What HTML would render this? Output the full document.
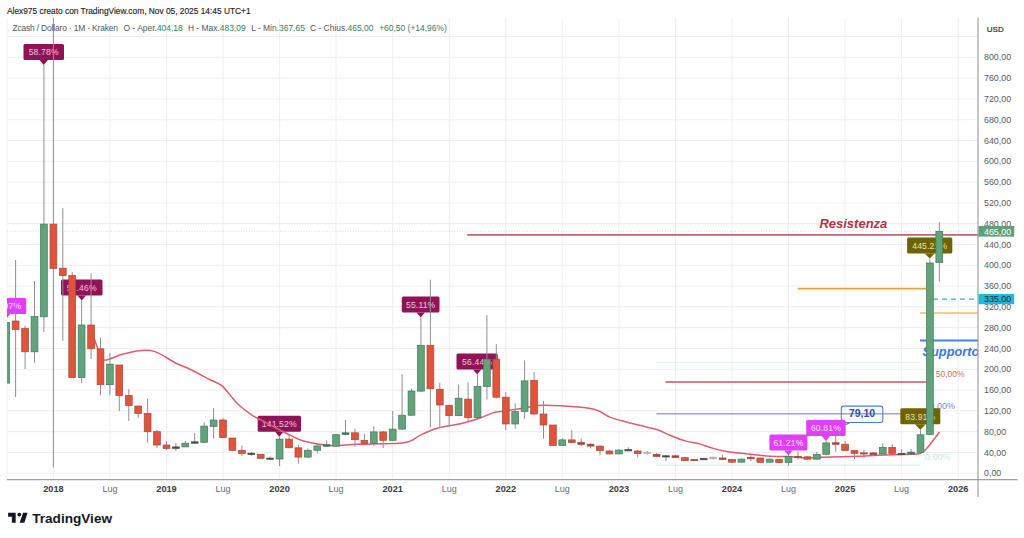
<!DOCTYPE html>
<html><head><meta charset="utf-8">
<style>
html,body{margin:0;padding:0;background:#fff;}
body{width:1024px;height:538px;position:relative;overflow:hidden;}
svg{position:absolute;left:0;top:0;}
</style></head><body>
<svg width="1024" height="538" viewBox="0 0 1024 538" font-family="Liberation Sans, sans-serif">
<defs><clipPath id="pane"><rect x="7" y="17.7" width="971" height="461.8"/></clipPath></defs>
<g stroke="#efeff0" stroke-width="1.05">
<line x1="7" y1="17.7" x2="7" y2="479.5" stroke="#f2f2f4"/>
<line x1="7" y1="473.2" x2="978" y2="473.2"/>
<line x1="7" y1="452.4" x2="978" y2="452.4"/>
<line x1="7" y1="431.6" x2="978" y2="431.6"/>
<line x1="7" y1="410.8" x2="978" y2="410.8"/>
<line x1="7" y1="390.0" x2="978" y2="390.0"/>
<line x1="7" y1="369.2" x2="978" y2="369.2"/>
<line x1="7" y1="348.4" x2="978" y2="348.4"/>
<line x1="7" y1="327.6" x2="978" y2="327.6"/>
<line x1="7" y1="306.8" x2="978" y2="306.8"/>
<line x1="7" y1="286.0" x2="978" y2="286.0"/>
<line x1="7" y1="265.2" x2="978" y2="265.2"/>
<line x1="7" y1="244.4" x2="978" y2="244.4"/>
<line x1="7" y1="223.6" x2="978" y2="223.6"/>
<line x1="7" y1="202.9" x2="978" y2="202.9"/>
<line x1="7" y1="182.1" x2="978" y2="182.1"/>
<line x1="7" y1="161.3" x2="978" y2="161.3"/>
<line x1="7" y1="140.5" x2="978" y2="140.5"/>
<line x1="7" y1="119.7" x2="978" y2="119.7"/>
<line x1="7" y1="98.9" x2="978" y2="98.9"/>
<line x1="7" y1="78.1" x2="978" y2="78.1"/>
<line x1="7" y1="57.3" x2="978" y2="57.3"/>
<line x1="7" y1="36.5" x2="978" y2="36.5"/>
<line x1="53.4" y1="17.7" x2="53.4" y2="479.5"/>
<line x1="109.9" y1="17.7" x2="109.9" y2="479.5"/>
<line x1="166.5" y1="17.7" x2="166.5" y2="479.5"/>
<line x1="223.0" y1="17.7" x2="223.0" y2="479.5"/>
<line x1="279.6" y1="17.7" x2="279.6" y2="479.5"/>
<line x1="336.1" y1="17.7" x2="336.1" y2="479.5"/>
<line x1="392.7" y1="17.7" x2="392.7" y2="479.5"/>
<line x1="449.2" y1="17.7" x2="449.2" y2="479.5"/>
<line x1="505.8" y1="17.7" x2="505.8" y2="479.5"/>
<line x1="562.3" y1="17.7" x2="562.3" y2="479.5"/>
<line x1="618.9" y1="17.7" x2="618.9" y2="479.5"/>
<line x1="675.4" y1="17.7" x2="675.4" y2="479.5"/>
<line x1="732.0" y1="17.7" x2="732.0" y2="479.5"/>
<line x1="788.5" y1="17.7" x2="788.5" y2="479.5"/>
<line x1="845.1" y1="17.7" x2="845.1" y2="479.5"/>
<line x1="901.6" y1="17.7" x2="901.6" y2="479.5"/>
<line x1="958.2" y1="17.7" x2="958.2" y2="479.5"/>
</g>
<g clip-path="url(#pane)">
<line x1="7" y1="231.2" x2="978" y2="231.2" stroke="#cfc6c6" stroke-width="0.7" stroke-dasharray="1 1.6"/>
<line x1="467.3" y1="234.9" x2="978" y2="234.9" stroke="#c86470" stroke-width="1.6"/>
<line x1="797.7" y1="288.6" x2="926" y2="288.6" stroke="#e9a03e" stroke-width="1.7"/>
<line x1="933" y1="299.2" x2="978" y2="299.2" stroke="#2ab4d6" stroke-width="1.3" stroke-dasharray="5 4"/>
<line x1="920" y1="313" x2="978" y2="313" stroke="#f2c04a" stroke-width="1.7"/>
<line x1="920" y1="340.5" x2="978" y2="340.5" stroke="#4a80e8" stroke-width="1.9"/>
<line x1="656.4" y1="362.3" x2="920" y2="362.3" stroke="#cfeee6" stroke-width="0.8"/>
<line x1="665.5" y1="382" x2="926.5" y2="382" stroke="#c85560" stroke-width="1.5"/>
<line x1="656.4" y1="413.8" x2="930" y2="413.8" stroke="#a4a2d6" stroke-width="1.5"/>
<line x1="656.4" y1="465.2" x2="920" y2="465.2" stroke="#c8ece6" stroke-width="0.8"/>
<text x="819.4" y="228.3" font-size="13" font-weight="bold" font-style="italic" fill="#b23444">Resistenza</text>
<text x="922.5" y="355.8" font-size="12.8" font-weight="bold" font-style="italic" fill="#3a78e0">Supporto</text>
<text x="935.8" y="377.4" font-size="8.5" fill="#e06868">50,00%</text>
<text x="955.1" y="408.6" font-size="9" fill="#8a80d8" text-anchor="end">0.00%</text>
<text x="950.5" y="460.1" font-size="9" fill="#c4ece6" text-anchor="end">0.00%</text>
<rect x="841.3" y="406.1" width="41.5" height="16.4" rx="2.5" fill="none" stroke="#4a7cd0" stroke-width="1.1"/>
<path d="M841.3 419 L845.8 424.5 L850.2 422.5" fill="none" stroke="#4a7cd0" stroke-width="1.1"/>
<text x="862" y="417.4" font-size="10.6" font-weight="bold" fill="#3050a0" text-anchor="middle">79,10</text>
<rect x="-13.8" y="298.0" width="40" height="16" rx="1.5" fill="#e03ff8"/><path d="M2.0 314.0 L6.2 319.0 L10.4 314.0 Z" fill="#e03ff8"/><text x="6.2" y="309.4" fill="#fbe0ff" font-size="8.6" text-anchor="middle" letter-spacing="0.15">52.07%</text>
<rect x="23.5" y="44.0" width="40.5" height="16" rx="1.5" fill="#901358"/><path d="M39.5 60.0 L43.7 65.0 L47.9 60.0 Z" fill="#901358"/><text x="43.7" y="55.4" fill="#efc8de" font-size="8.6" text-anchor="middle" letter-spacing="0.15">58.78%</text>
<rect x="61.0" y="279.5" width="41.5" height="16" rx="1.5" fill="#901358"/><path d="M77.5 295.5 L81.7 300.5 L85.9 295.5 Z" fill="#901358"/><text x="81.7" y="290.9" fill="#efc8de" font-size="8.6" text-anchor="middle" letter-spacing="0.15">51.46%</text>
<rect x="257.7" y="415.7" width="43.3" height="16" rx="1.5" fill="#901358"/><path d="M275.1 431.7 L279.3 436.7 L283.5 431.7 Z" fill="#901358"/><text x="279.3" y="427.1" fill="#efc8de" font-size="8.6" text-anchor="middle" letter-spacing="0.15">141.52%</text>
<rect x="401.8" y="296.4" width="37.7" height="16" rx="1.5" fill="#901358"/><path d="M416.5 312.4 L420.7 317.4 L424.9 312.4 Z" fill="#901358"/><text x="420.7" y="307.8" fill="#efc8de" font-size="8.6" text-anchor="middle" letter-spacing="0.15">55.11%</text>
<rect x="456.5" y="353.4" width="41.3" height="16" rx="1.5" fill="#901358"/><path d="M472.9 369.4 L477.1 374.4 L481.3 369.4 Z" fill="#901358"/><text x="477.1" y="364.8" fill="#efc8de" font-size="8.6" text-anchor="middle" letter-spacing="0.15">56.44%</text>
<rect x="769.4" y="434.6" width="38" height="16" rx="1.5" fill="#e03ff8"/><path d="M784.2 450.6 L788.4 455.6 L792.6 450.6 Z" fill="#e03ff8"/><text x="788.4" y="446.0" fill="#fbe0ff" font-size="8.6" text-anchor="middle" letter-spacing="0.15">61.21%</text>
<rect x="806.2" y="419.9" width="39.4" height="16" rx="1.5" fill="#e03ff8"/><path d="M821.7 435.9 L825.9 440.9 L830.1 435.9 Z" fill="#e03ff8"/><text x="825.9" y="431.3" fill="#fbe0ff" font-size="8.6" text-anchor="middle" letter-spacing="0.15">60.81%</text>
<rect x="900.3" y="408.2" width="40" height="16" rx="1.5" fill="#6e6400"/><path d="M914.9 424.2 L920.3 429.8 L925.7 424.2 Z" fill="#6e6400"/><text x="920.3" y="419.6" fill="#ebe3b0" font-size="8.6" text-anchor="middle" letter-spacing="0.15">83.91%</text>
<rect x="907.1" y="237.4" width="45.2" height="16" rx="1.5" fill="#6e6400"/><path d="M924.7 253.4 L929.7 258.6 L934.7 253.4 Z" fill="#6e6400"/><text x="929.7" y="248.8" fill="#ebe3b0" font-size="8.6" text-anchor="middle" letter-spacing="0.15">445.21%</text>
<path d="M91,333 C91.6,334.0 93.3,336.4 94.4,339 C95.5,341.6 96.0,344.8 97.6,348.3 C99.2,351.8 100.3,358.9 104,360 C107.7,361.1 114.3,356.6 120,355 C125.7,353.4 132.5,351.3 138.3,350.7 C144.1,350.1 148.8,349.6 155,351.6 C161.2,353.7 169.7,360.1 175.5,363 C181.3,365.9 184.2,366.5 190,369.3 C195.8,372.1 205.3,377.3 210.6,380 C215.9,382.7 218.1,382.5 221.8,385.6 C225.5,388.7 230.0,395.2 233,398.6 C236.0,402.0 236.8,403.2 240,406 C243.2,408.8 247.8,412.4 252.3,415.3 C256.8,418.2 261.6,420.2 267.2,423.1 C272.8,426.1 279.6,430.0 285.8,433 C292.0,436.0 296.9,439.2 304.3,441.3 C311.7,443.4 321.2,444.9 330,445.4 C338.8,445.9 345.2,444.7 357.2,444.3 C369.2,443.9 392.5,443.8 401.8,443 C411.1,442.2 410.0,441.0 413,439.7 C416.0,438.4 416.0,437.3 420,435.4 C424.0,433.5 430.3,430.3 437.2,428.3 C444.1,426.3 454.2,425.3 461.3,423.6 C468.4,421.9 474.7,419.8 480,418 C485.3,416.2 489.7,414.0 493,412.9 C496.3,411.8 495.6,412.3 500,411.6 C504.4,410.9 513.3,409.8 519.7,408.8 C526.1,407.8 530.9,406.0 538.3,405.5 C545.7,405.0 555.9,405.6 564.3,406 C572.7,406.4 583.1,407.3 588.9,408.2 C594.7,409.1 595.8,409.7 599.3,411.2 C602.8,412.7 606.1,415.5 609.8,417.1 C613.5,418.7 616.8,419.4 621.7,420.8 C626.7,422.2 633.5,423.8 639.5,425.3 C645.5,426.8 652.4,428.2 657.4,429.8 C662.4,431.4 664.7,433.1 669.3,435 C673.9,436.9 679.8,439.4 684.9,440.9 C690.0,442.4 695.1,442.6 699.8,443.9 C704.5,445.1 708.2,447.0 713.2,448.4 C718.2,449.8 723.8,451.2 729.5,452.1 C735.2,453.0 740.6,453.2 747.4,453.9 C754.1,454.6 763.2,455.9 770,456.3 C776.8,456.7 782.5,456.2 788.3,456.5 C794.1,456.8 798.9,457.9 804.6,458 C810.3,458.1 813.3,457.6 822.5,457.3 C831.7,457.0 850.9,456.6 860,456.3 C869.1,456.0 868.8,455.6 877.2,455.3 C885.6,455.0 903.5,454.6 910.6,454.3 C917.7,454.0 917.7,454.0 920,453.4 C922.3,452.8 922.8,452.3 924.6,450.6 C926.4,448.9 928.5,446.3 931,443.2 C933.5,440.1 938.1,433.8 939.5,431.9" fill="none" stroke="#e25a6c" stroke-width="1.5" stroke-linejoin="round"/>
<line x1="6.2" y1="320" x2="6.2" y2="385" stroke="#8f8f8f" stroke-width="1"/>
<rect x="2.8" y="322.4" width="6.8" height="60.7" fill="#62a37c" stroke="#3f7a5a" stroke-width="0.7"/>
<line x1="15.6" y1="260" x2="15.6" y2="397" stroke="#8f8f8f" stroke-width="1"/>
<rect x="12.2" y="321" width="6.8" height="8.5" fill="#df553b" stroke="#a9473a" stroke-width="0.7"/>
<line x1="25.1" y1="326" x2="25.1" y2="369" stroke="#8f8f8f" stroke-width="1"/>
<rect x="21.7" y="328.5" width="6.8" height="23.3" fill="#df553b" stroke="#a9473a" stroke-width="0.7"/>
<line x1="34.5" y1="281" x2="34.5" y2="362.7" stroke="#8f8f8f" stroke-width="1"/>
<rect x="31.1" y="316.5" width="6.8" height="35.3" fill="#62a37c" stroke="#3f7a5a" stroke-width="0.7"/>
<line x1="43.9" y1="65" x2="43.9" y2="332" stroke="#8f8f8f" stroke-width="1"/>
<rect x="40.5" y="224.1" width="6.8" height="92.7" fill="#62a37c" stroke="#3f7a5a" stroke-width="0.7"/>
<line x1="53.4" y1="17.7" x2="53.4" y2="467.4" stroke="#8f8f8f" stroke-width="1"/>
<rect x="50.0" y="224.1" width="6.8" height="44.3" fill="#df553b" stroke="#a9473a" stroke-width="0.7"/>
<line x1="62.8" y1="208.2" x2="62.8" y2="340.9" stroke="#8f8f8f" stroke-width="1"/>
<rect x="59.4" y="268.2" width="6.8" height="7.4" fill="#df553b" stroke="#a9473a" stroke-width="0.7"/>
<line x1="72.2" y1="272" x2="72.2" y2="377.6" stroke="#8f8f8f" stroke-width="1"/>
<rect x="68.8" y="275.6" width="6.8" height="102.0" fill="#df553b" stroke="#a9473a" stroke-width="0.7"/>
<line x1="81.6" y1="300.5" x2="81.6" y2="383" stroke="#8f8f8f" stroke-width="1"/>
<rect x="78.2" y="325" width="6.8" height="52.6" fill="#62a37c" stroke="#3f7a5a" stroke-width="0.7"/>
<line x1="91.1" y1="273.4" x2="91.1" y2="359" stroke="#8f8f8f" stroke-width="1"/>
<rect x="87.7" y="325" width="6.8" height="23.8" fill="#df553b" stroke="#a9473a" stroke-width="0.7"/>
<line x1="100.5" y1="337.7" x2="100.5" y2="395.3" stroke="#8f8f8f" stroke-width="1"/>
<rect x="97.1" y="348.8" width="6.8" height="35.9" fill="#df553b" stroke="#a9473a" stroke-width="0.7"/>
<line x1="109.9" y1="353" x2="109.9" y2="395.3" stroke="#8f8f8f" stroke-width="1"/>
<rect x="106.5" y="364.2" width="6.8" height="20.5" fill="#62a37c" stroke="#3f7a5a" stroke-width="0.7"/>
<line x1="119.3" y1="365" x2="119.3" y2="411" stroke="#8f8f8f" stroke-width="1"/>
<rect x="115.9" y="365" width="6.8" height="30.6" fill="#df553b" stroke="#a9473a" stroke-width="0.7"/>
<line x1="128.8" y1="389.1" x2="128.8" y2="421" stroke="#8f8f8f" stroke-width="1"/>
<rect x="125.4" y="395.3" width="6.8" height="10.2" fill="#df553b" stroke="#a9473a" stroke-width="0.7"/>
<line x1="138.2" y1="406" x2="138.2" y2="417.8" stroke="#8f8f8f" stroke-width="1"/>
<rect x="134.8" y="406" width="6.8" height="7.5" fill="#df553b" stroke="#a9473a" stroke-width="0.7"/>
<line x1="147.6" y1="398.6" x2="147.6" y2="442.8" stroke="#8f8f8f" stroke-width="1"/>
<rect x="144.2" y="413.5" width="6.8" height="18.2" fill="#df553b" stroke="#a9473a" stroke-width="0.7"/>
<line x1="157.0" y1="429.8" x2="157.0" y2="447.8" stroke="#8f8f8f" stroke-width="1"/>
<rect x="153.6" y="431.7" width="6.8" height="13.3" fill="#df553b" stroke="#a9473a" stroke-width="0.7"/>
<line x1="166.5" y1="441" x2="166.5" y2="450" stroke="#8f8f8f" stroke-width="1"/>
<rect x="163.1" y="445" width="6.8" height="3.4" fill="#df553b" stroke="#a9473a" stroke-width="0.7"/>
<line x1="175.9" y1="443" x2="175.9" y2="451" stroke="#8f8f8f" stroke-width="1"/>
<rect x="172.5" y="446.9" width="6.8" height="1.5" fill="#4a4a4a" stroke="#4a4a4a" stroke-width="0.7"/>
<line x1="185.3" y1="441" x2="185.3" y2="447" stroke="#8f8f8f" stroke-width="1"/>
<rect x="181.9" y="443.2" width="6.8" height="3.7" fill="#62a37c" stroke="#3f7a5a" stroke-width="0.7"/>
<line x1="194.7" y1="433" x2="194.7" y2="444" stroke="#8f8f8f" stroke-width="1"/>
<rect x="191.3" y="441.8" width="6.8" height="1.4" fill="#4a4a4a" stroke="#4a4a4a" stroke-width="0.7"/>
<line x1="204.2" y1="422.4" x2="204.2" y2="443" stroke="#8f8f8f" stroke-width="1"/>
<rect x="200.8" y="426.1" width="6.8" height="16.2" fill="#62a37c" stroke="#3f7a5a" stroke-width="0.7"/>
<line x1="213.6" y1="407.9" x2="213.6" y2="438.5" stroke="#8f8f8f" stroke-width="1"/>
<rect x="210.2" y="420" width="6.8" height="6.5" fill="#62a37c" stroke="#3f7a5a" stroke-width="0.7"/>
<line x1="223.0" y1="418" x2="223.0" y2="438" stroke="#8f8f8f" stroke-width="1"/>
<rect x="219.6" y="420" width="6.8" height="17.6" fill="#df553b" stroke="#a9473a" stroke-width="0.7"/>
<line x1="232.4" y1="438" x2="232.4" y2="451" stroke="#8f8f8f" stroke-width="1"/>
<rect x="229.0" y="438" width="6.8" height="12.3" fill="#df553b" stroke="#a9473a" stroke-width="0.7"/>
<line x1="241.9" y1="445.4" x2="241.9" y2="456.2" stroke="#8f8f8f" stroke-width="1"/>
<rect x="238.5" y="450.3" width="6.8" height="3.1" fill="#df553b" stroke="#a9473a" stroke-width="0.7"/>
<line x1="251.3" y1="452" x2="251.3" y2="455.8" stroke="#8f8f8f" stroke-width="1"/>
<rect x="247.9" y="453.2" width="6.8" height="1.4" fill="#4a4a4a" stroke="#4a4a4a" stroke-width="0.7"/>
<line x1="260.7" y1="454" x2="260.7" y2="459" stroke="#8f8f8f" stroke-width="1"/>
<rect x="257.3" y="454.3" width="6.8" height="4.1" fill="#df553b" stroke="#a9473a" stroke-width="0.7"/>
<line x1="270.1" y1="456.4" x2="270.1" y2="459.6" stroke="#8f8f8f" stroke-width="1"/>
<rect x="266.7" y="458.1" width="6.8" height="1.2" fill="#4a4a4a" stroke="#4a4a4a" stroke-width="0.7"/>
<line x1="279.6" y1="436.7" x2="279.6" y2="466" stroke="#8f8f8f" stroke-width="1"/>
<rect x="276.2" y="439.1" width="6.8" height="19.9" fill="#62a37c" stroke="#3f7a5a" stroke-width="0.7"/>
<line x1="289.0" y1="433.9" x2="289.0" y2="448" stroke="#8f8f8f" stroke-width="1"/>
<rect x="285.6" y="439.1" width="6.8" height="8.7" fill="#df553b" stroke="#a9473a" stroke-width="0.7"/>
<line x1="298.4" y1="445" x2="298.4" y2="463.6" stroke="#8f8f8f" stroke-width="1"/>
<rect x="295.0" y="447.8" width="6.8" height="9.3" fill="#df553b" stroke="#a9473a" stroke-width="0.7"/>
<line x1="307.8" y1="448.4" x2="307.8" y2="458" stroke="#8f8f8f" stroke-width="1"/>
<rect x="304.4" y="450.3" width="6.8" height="6.8" fill="#62a37c" stroke="#3f7a5a" stroke-width="0.7"/>
<line x1="317.3" y1="444" x2="317.3" y2="453.4" stroke="#8f8f8f" stroke-width="1"/>
<rect x="313.9" y="446" width="6.8" height="4.3" fill="#62a37c" stroke="#3f7a5a" stroke-width="0.7"/>
<line x1="326.7" y1="440.4" x2="326.7" y2="447" stroke="#8f8f8f" stroke-width="1"/>
<rect x="323.3" y="444.7" width="6.8" height="1.6" fill="#3f7a5a" stroke="#3f7a5a" stroke-width="0.7"/>
<line x1="336.1" y1="434" x2="336.1" y2="447" stroke="#8f8f8f" stroke-width="1"/>
<rect x="332.7" y="434.7" width="6.8" height="11.5" fill="#62a37c" stroke="#3f7a5a" stroke-width="0.7"/>
<line x1="345.5" y1="419.8" x2="345.5" y2="435.4" stroke="#8f8f8f" stroke-width="1"/>
<rect x="342.1" y="432.8" width="6.8" height="1.7" fill="#3f7a5a" stroke="#3f7a5a" stroke-width="0.7"/>
<line x1="355.0" y1="428.6" x2="355.0" y2="446.6" stroke="#8f8f8f" stroke-width="1"/>
<rect x="351.6" y="432.8" width="6.8" height="6.9" fill="#df553b" stroke="#a9473a" stroke-width="0.7"/>
<line x1="364.4" y1="433.6" x2="364.4" y2="444" stroke="#8f8f8f" stroke-width="1"/>
<rect x="361.0" y="440.3" width="6.8" height="3.1" fill="#df553b" stroke="#a9473a" stroke-width="0.7"/>
<line x1="373.8" y1="426.3" x2="373.8" y2="446.2" stroke="#8f8f8f" stroke-width="1"/>
<rect x="370.4" y="431.9" width="6.8" height="11.5" fill="#62a37c" stroke="#3f7a5a" stroke-width="0.7"/>
<line x1="383.2" y1="431" x2="383.2" y2="448" stroke="#8f8f8f" stroke-width="1"/>
<rect x="379.8" y="431.9" width="6.8" height="8.4" fill="#df553b" stroke="#a9473a" stroke-width="0.7"/>
<line x1="392.7" y1="410.9" x2="392.7" y2="441" stroke="#8f8f8f" stroke-width="1"/>
<rect x="389.3" y="429.1" width="6.8" height="11.2" fill="#62a37c" stroke="#3f7a5a" stroke-width="0.7"/>
<line x1="402.1" y1="374.1" x2="402.1" y2="430" stroke="#8f8f8f" stroke-width="1"/>
<rect x="398.7" y="415.2" width="6.8" height="13.9" fill="#62a37c" stroke="#3f7a5a" stroke-width="0.7"/>
<line x1="411.5" y1="388.6" x2="411.5" y2="416" stroke="#8f8f8f" stroke-width="1"/>
<rect x="408.1" y="391" width="6.8" height="24.2" fill="#62a37c" stroke="#3f7a5a" stroke-width="0.7"/>
<line x1="420.9" y1="317.4" x2="420.9" y2="392" stroke="#8f8f8f" stroke-width="1"/>
<rect x="417.5" y="345.3" width="6.8" height="45.8" fill="#62a37c" stroke="#3f7a5a" stroke-width="0.7"/>
<line x1="430.4" y1="279.7" x2="430.4" y2="427.4" stroke="#8f8f8f" stroke-width="1"/>
<rect x="427.0" y="345.3" width="6.8" height="43.4" fill="#df553b" stroke="#a9473a" stroke-width="0.7"/>
<line x1="439.8" y1="382.8" x2="439.8" y2="428.3" stroke="#8f8f8f" stroke-width="1"/>
<rect x="436.4" y="389.3" width="6.8" height="15.7" fill="#df553b" stroke="#a9473a" stroke-width="0.7"/>
<line x1="449.2" y1="405" x2="449.2" y2="426.4" stroke="#8f8f8f" stroke-width="1"/>
<rect x="445.8" y="405.4" width="6.8" height="10.3" fill="#df553b" stroke="#a9473a" stroke-width="0.7"/>
<line x1="458.6" y1="384.6" x2="458.6" y2="416" stroke="#8f8f8f" stroke-width="1"/>
<rect x="455.2" y="398.2" width="6.8" height="17.5" fill="#62a37c" stroke="#3f7a5a" stroke-width="0.7"/>
<line x1="468.1" y1="382.4" x2="468.1" y2="420.9" stroke="#8f8f8f" stroke-width="1"/>
<rect x="464.7" y="399.1" width="6.8" height="18.6" fill="#df553b" stroke="#a9473a" stroke-width="0.7"/>
<line x1="477.5" y1="374.4" x2="477.5" y2="418" stroke="#8f8f8f" stroke-width="1"/>
<rect x="474.1" y="386.5" width="6.8" height="31.2" fill="#62a37c" stroke="#3f7a5a" stroke-width="0.7"/>
<line x1="486.9" y1="314.9" x2="486.9" y2="399.5" stroke="#8f8f8f" stroke-width="1"/>
<rect x="483.5" y="359.1" width="6.8" height="27.4" fill="#62a37c" stroke="#3f7a5a" stroke-width="0.7"/>
<line x1="496.3" y1="344" x2="496.3" y2="398.6" stroke="#8f8f8f" stroke-width="1"/>
<rect x="492.9" y="359.1" width="6.8" height="38.1" fill="#df553b" stroke="#a9473a" stroke-width="0.7"/>
<line x1="505.8" y1="392" x2="505.8" y2="430.2" stroke="#8f8f8f" stroke-width="1"/>
<rect x="502.4" y="397.2" width="6.8" height="26.8" fill="#df553b" stroke="#a9473a" stroke-width="0.7"/>
<line x1="515.2" y1="403.2" x2="515.2" y2="428.7" stroke="#8f8f8f" stroke-width="1"/>
<rect x="511.8" y="411.6" width="6.8" height="12.4" fill="#62a37c" stroke="#3f7a5a" stroke-width="0.7"/>
<line x1="524.6" y1="360.4" x2="524.6" y2="419" stroke="#8f8f8f" stroke-width="1"/>
<rect x="521.2" y="380.9" width="6.8" height="30.7" fill="#62a37c" stroke="#3f7a5a" stroke-width="0.7"/>
<line x1="534.1" y1="372.1" x2="534.1" y2="415.3" stroke="#8f8f8f" stroke-width="1"/>
<rect x="530.7" y="380.3" width="6.8" height="33.7" fill="#df553b" stroke="#a9473a" stroke-width="0.7"/>
<line x1="543.5" y1="400.8" x2="543.5" y2="438.6" stroke="#8f8f8f" stroke-width="1"/>
<rect x="540.1" y="414" width="6.8" height="11.0" fill="#df553b" stroke="#a9473a" stroke-width="0.7"/>
<line x1="552.9" y1="425" x2="552.9" y2="446" stroke="#8f8f8f" stroke-width="1"/>
<rect x="549.5" y="425" width="6.8" height="20.4" fill="#df553b" stroke="#a9473a" stroke-width="0.7"/>
<line x1="562.3" y1="438.2" x2="562.3" y2="446" stroke="#8f8f8f" stroke-width="1"/>
<rect x="558.9" y="439.9" width="6.8" height="5.5" fill="#62a37c" stroke="#3f7a5a" stroke-width="0.7"/>
<line x1="571.8" y1="430.2" x2="571.8" y2="443" stroke="#8f8f8f" stroke-width="1"/>
<rect x="568.4" y="439.9" width="6.8" height="2.7" fill="#df553b" stroke="#a9473a" stroke-width="0.7"/>
<line x1="581.2" y1="438.6" x2="581.2" y2="446" stroke="#8f8f8f" stroke-width="1"/>
<rect x="577.8" y="442.3" width="6.8" height="2.2" fill="#a9473a" stroke="#a9473a" stroke-width="0.7"/>
<line x1="590.6" y1="443.2" x2="590.6" y2="448.4" stroke="#8f8f8f" stroke-width="1"/>
<rect x="587.2" y="444.2" width="6.8" height="1.9" fill="#a9473a" stroke="#a9473a" stroke-width="0.7"/>
<line x1="600.0" y1="445" x2="600.0" y2="455.4" stroke="#8f8f8f" stroke-width="1"/>
<rect x="596.6" y="446.1" width="6.8" height="4.5" fill="#df553b" stroke="#a9473a" stroke-width="0.7"/>
<line x1="609.5" y1="450" x2="609.5" y2="454.5" stroke="#8f8f8f" stroke-width="1"/>
<rect x="606.1" y="451" width="6.8" height="2.9" fill="#df553b" stroke="#a9473a" stroke-width="0.7"/>
<line x1="618.9" y1="449" x2="618.9" y2="454" stroke="#8f8f8f" stroke-width="1"/>
<rect x="615.5" y="450.1" width="6.8" height="3.8" fill="#62a37c" stroke="#3f7a5a" stroke-width="0.7"/>
<line x1="628.3" y1="447.3" x2="628.3" y2="451" stroke="#8f8f8f" stroke-width="1"/>
<rect x="624.9" y="449.6" width="6.8" height="1.3" fill="#4a4a4a" stroke="#4a4a4a" stroke-width="0.7"/>
<line x1="637.7" y1="450" x2="637.7" y2="457.3" stroke="#8f8f8f" stroke-width="1"/>
<rect x="634.3" y="451" width="6.8" height="2.6" fill="#df553b" stroke="#a9473a" stroke-width="0.7"/>
<line x1="647.2" y1="451" x2="647.2" y2="454.5" stroke="#8f8f8f" stroke-width="1"/>
<rect x="643.8" y="452.3" width="6.8" height="1.1" fill="#b0b0b0" stroke="#b0b0b0" stroke-width="0.7"/>
<line x1="656.6" y1="453" x2="656.6" y2="457" stroke="#8f8f8f" stroke-width="1"/>
<rect x="653.2" y="454.3" width="6.8" height="2.2" fill="#a9473a" stroke="#a9473a" stroke-width="0.7"/>
<line x1="666.0" y1="455" x2="666.0" y2="461" stroke="#8f8f8f" stroke-width="1"/>
<rect x="662.6" y="455.8" width="6.8" height="1.2" fill="#4a4a4a" stroke="#4a4a4a" stroke-width="0.7"/>
<line x1="675.4" y1="455" x2="675.4" y2="458" stroke="#8f8f8f" stroke-width="1"/>
<rect x="672.0" y="455.8" width="6.8" height="1.8" fill="#a9473a" stroke="#a9473a" stroke-width="0.7"/>
<line x1="684.9" y1="457" x2="684.9" y2="461" stroke="#8f8f8f" stroke-width="1"/>
<rect x="681.5" y="457.7" width="6.8" height="3.0" fill="#df553b" stroke="#a9473a" stroke-width="0.7"/>
<line x1="694.3" y1="459" x2="694.3" y2="461" stroke="#8f8f8f" stroke-width="1"/>
<rect x="690.9" y="459.5" width="6.8" height="1.2" fill="#a9473a" stroke="#a9473a" stroke-width="0.7"/>
<line x1="703.7" y1="458" x2="703.7" y2="460" stroke="#8f8f8f" stroke-width="1"/>
<rect x="700.3" y="458.4" width="6.8" height="1.4" fill="#4a4a4a" stroke="#4a4a4a" stroke-width="0.7"/>
<line x1="713.1" y1="456.8" x2="713.1" y2="459.2" stroke="#8f8f8f" stroke-width="1"/>
<rect x="709.7" y="457.2" width="6.8" height="1.6" fill="#b0b0b0" stroke="#b0b0b0" stroke-width="0.7"/>
<line x1="722.6" y1="455" x2="722.6" y2="460" stroke="#8f8f8f" stroke-width="1"/>
<rect x="719.2" y="458" width="6.8" height="1.5" fill="#a9473a" stroke="#a9473a" stroke-width="0.7"/>
<line x1="732.0" y1="459" x2="732.0" y2="463" stroke="#8f8f8f" stroke-width="1"/>
<rect x="728.6" y="459.5" width="6.8" height="2.7" fill="#df553b" stroke="#a9473a" stroke-width="0.7"/>
<line x1="741.4" y1="458.5" x2="741.4" y2="462.5" stroke="#8f8f8f" stroke-width="1"/>
<rect x="738.0" y="459.1" width="6.8" height="3.1" fill="#62a37c" stroke="#3f7a5a" stroke-width="0.7"/>
<line x1="750.8" y1="453.9" x2="750.8" y2="461" stroke="#8f8f8f" stroke-width="1"/>
<rect x="747.4" y="457.3" width="6.8" height="1.5" fill="#a9473a" stroke="#a9473a" stroke-width="0.7"/>
<line x1="760.3" y1="457.5" x2="760.3" y2="463" stroke="#8f8f8f" stroke-width="1"/>
<rect x="756.9" y="458" width="6.8" height="4.3" fill="#df553b" stroke="#a9473a" stroke-width="0.7"/>
<line x1="769.7" y1="458.5" x2="769.7" y2="462.5" stroke="#8f8f8f" stroke-width="1"/>
<rect x="766.3" y="459.2" width="6.8" height="3.0" fill="#62a37c" stroke="#3f7a5a" stroke-width="0.7"/>
<line x1="779.1" y1="459" x2="779.1" y2="463" stroke="#8f8f8f" stroke-width="1"/>
<rect x="775.7" y="459.5" width="6.8" height="3.0" fill="#df553b" stroke="#a9473a" stroke-width="0.7"/>
<line x1="788.5" y1="455.4" x2="788.5" y2="465.5" stroke="#8f8f8f" stroke-width="1"/>
<rect x="785.1" y="456.3" width="6.8" height="6.2" fill="#62a37c" stroke="#3f7a5a" stroke-width="0.7"/>
<line x1="798.0" y1="451.3" x2="798.0" y2="459.5" stroke="#8f8f8f" stroke-width="1"/>
<rect x="794.6" y="456.3" width="6.8" height="1.0" fill="#a9473a" stroke="#a9473a" stroke-width="0.7"/>
<line x1="807.4" y1="456" x2="807.4" y2="459.5" stroke="#8f8f8f" stroke-width="1"/>
<rect x="804.0" y="456.8" width="6.8" height="2.4" fill="#df553b" stroke="#a9473a" stroke-width="0.7"/>
<line x1="816.8" y1="452" x2="816.8" y2="459.5" stroke="#8f8f8f" stroke-width="1"/>
<rect x="813.4" y="454.3" width="6.8" height="4.9" fill="#62a37c" stroke="#3f7a5a" stroke-width="0.7"/>
<line x1="826.2" y1="440.9" x2="826.2" y2="455" stroke="#8f8f8f" stroke-width="1"/>
<rect x="822.8" y="442.9" width="6.8" height="11.4" fill="#62a37c" stroke="#3f7a5a" stroke-width="0.7"/>
<line x1="835.7" y1="435.7" x2="835.7" y2="451.8" stroke="#8f8f8f" stroke-width="1"/>
<rect x="832.3" y="442.7" width="6.8" height="1.6" fill="#a9473a" stroke="#a9473a" stroke-width="0.7"/>
<line x1="845.1" y1="440.9" x2="845.1" y2="451" stroke="#8f8f8f" stroke-width="1"/>
<rect x="841.7" y="444.2" width="6.8" height="6.4" fill="#df553b" stroke="#a9473a" stroke-width="0.7"/>
<line x1="854.5" y1="450" x2="854.5" y2="459" stroke="#8f8f8f" stroke-width="1"/>
<rect x="851.1" y="450.6" width="6.8" height="2.8" fill="#df553b" stroke="#a9473a" stroke-width="0.7"/>
<line x1="863.9" y1="450" x2="863.9" y2="458" stroke="#8f8f8f" stroke-width="1"/>
<rect x="860.5" y="452.9" width="6.8" height="1.1" fill="#a9473a" stroke="#a9473a" stroke-width="0.7"/>
<line x1="873.4" y1="452" x2="873.4" y2="456.2" stroke="#8f8f8f" stroke-width="1"/>
<rect x="870.0" y="452.9" width="6.8" height="1.8" fill="#a9473a" stroke="#a9473a" stroke-width="0.7"/>
<line x1="882.8" y1="443.2" x2="882.8" y2="454.5" stroke="#8f8f8f" stroke-width="1"/>
<rect x="879.4" y="447.3" width="6.8" height="6.7" fill="#62a37c" stroke="#3f7a5a" stroke-width="0.7"/>
<line x1="892.2" y1="444.1" x2="892.2" y2="454" stroke="#8f8f8f" stroke-width="1"/>
<rect x="888.8" y="447.3" width="6.8" height="6.1" fill="#df553b" stroke="#a9473a" stroke-width="0.7"/>
<line x1="901.6" y1="449.1" x2="901.6" y2="455" stroke="#8f8f8f" stroke-width="1"/>
<rect x="898.2" y="453.4" width="6.8" height="1.3" fill="#4a4a4a" stroke="#4a4a4a" stroke-width="0.7"/>
<line x1="911.1" y1="448.8" x2="911.1" y2="454.5" stroke="#8f8f8f" stroke-width="1"/>
<rect x="907.7" y="452.1" width="6.8" height="1.9" fill="#3f7a5a" stroke="#3f7a5a" stroke-width="0.7"/>
<line x1="920.5" y1="429.5" x2="920.5" y2="452.5" stroke="#8f8f8f" stroke-width="1"/>
<rect x="917.1" y="434.8" width="6.8" height="17.5" fill="#62a37c" stroke="#3f7a5a" stroke-width="0.7"/>
<line x1="929.9" y1="258.7" x2="929.9" y2="434.4" stroke="#8f8f8f" stroke-width="1"/>
<rect x="926.5" y="263" width="6.8" height="171.4" fill="#62a37c" stroke="#3f7a5a" stroke-width="0.7"/>
<line x1="939.3" y1="222.1" x2="939.3" y2="281.6" stroke="#8f8f8f" stroke-width="1"/>
<rect x="935.9" y="231.3" width="6.8" height="31.3" fill="#62a37c" stroke="#3f7a5a" stroke-width="0.7"/>
</g>
<line x1="978" y1="17.7" x2="978" y2="497" stroke="#a0a0a4" stroke-width="1.2"/>
<line x1="7" y1="479.6" x2="1017.5" y2="479.6" stroke="#a0a0a4" stroke-width="1.2"/>
<text x="7" y="13.6" font-size="8.35" fill="#1f2023" stroke="#1f2023" stroke-width="0.14">Alex975 creato con TradingView.com, Nov 05, 2025 14:45 UTC+1</text>
<text x="12.4" y="31.4" font-size="8.45" fill="#55565b" textLength="105.6">Zcash / Dollaro · 1M · Kraken</text>
<text x="123.6" y="31.4" font-size="8.45" fill="#55565b">O - Aper.<tspan fill="#35805a">404,18</tspan></text>
<text x="187.9" y="31.4" font-size="8.45" fill="#55565b">H - Max.<tspan fill="#35805a">483,09</tspan></text>
<text x="251.2" y="31.4" font-size="8.45" fill="#55565b">L - Min.<tspan fill="#35805a">367,65</tspan></text>
<text x="310" y="31.4" font-size="8.45" fill="#55565b">C - Chius.<tspan fill="#35805a">465,00</tspan></text>
<text x="379.2" y="31.4" font-size="8.45" fill="#35805a" >+60,50 (+14,96%)</text>
<text x="986.8" y="31.5" font-size="8" fill="#2a2b30" stroke="#2a2b30" stroke-width="0.2">USD</text>
<text x="984" y="476.3" font-size="8.9" fill="#5a5b60" >0,00</text>
<text x="984" y="455.5" font-size="8.9" fill="#5a5b60" >40,00</text>
<text x="984" y="434.7" font-size="8.9" fill="#5a5b60" >80,00</text>
<text x="984" y="413.9" font-size="8.9" fill="#5a5b60" >120,00</text>
<text x="984" y="393.1" font-size="8.9" fill="#5a5b60" >160,00</text>
<text x="984" y="372.3" font-size="8.9" fill="#5a5b60" >200,00</text>
<text x="984" y="351.5" font-size="8.9" fill="#5a5b60" >240,00</text>
<text x="984" y="330.7" font-size="8.9" fill="#5a5b60" >280,00</text>
<text x="984" y="309.9" font-size="8.9" fill="#5a5b60" >320,00</text>
<text x="984" y="289.1" font-size="8.9" fill="#5a5b60" >360,00</text>
<text x="984" y="268.3" font-size="8.9" fill="#5a5b60" >400,00</text>
<text x="984" y="247.5" font-size="8.9" fill="#5a5b60" >440,00</text>
<text x="984" y="226.7" font-size="8.9" fill="#5a5b60" >480,00</text>
<text x="984" y="206.0" font-size="8.9" fill="#5a5b60" >520,00</text>
<text x="984" y="185.2" font-size="8.9" fill="#5a5b60" >560,00</text>
<text x="984" y="164.4" font-size="8.9" fill="#5a5b60" >600,00</text>
<text x="984" y="143.6" font-size="8.9" fill="#5a5b60" >640,00</text>
<text x="984" y="122.8" font-size="8.9" fill="#5a5b60" >680,00</text>
<text x="984" y="102.0" font-size="8.9" fill="#5a5b60" >720,00</text>
<text x="984" y="81.2" font-size="8.9" fill="#5a5b60" >760,00</text>
<text x="984" y="60.4" font-size="8.9" fill="#5a5b60" >800,00</text>
<rect x="978.5" y="226" width="35.7" height="10.6" fill="#5fa078"/>
<text x="984" y="234.5" font-size="8.9" fill="#ffffff" >465,00</text>
<rect x="978.5" y="294" width="35.7" height="10.2" fill="#22b8d8"/>
<text x="984" y="302.1" font-size="8.9" fill="#0e2e38" >335,00</text>
<text x="53.4" y="492.3" font-size="9.2" fill="#3a3b40" text-anchor="middle" font-weight="bold">2018</text>
<text x="109.9" y="492.3" font-size="9.0" fill="#6a6b70" text-anchor="middle">Lug</text>
<text x="166.5" y="492.3" font-size="9.2" fill="#3a3b40" text-anchor="middle" font-weight="bold">2019</text>
<text x="223.0" y="492.3" font-size="9.0" fill="#6a6b70" text-anchor="middle">Lug</text>
<text x="279.6" y="492.3" font-size="9.2" fill="#3a3b40" text-anchor="middle" font-weight="bold">2020</text>
<text x="336.1" y="492.3" font-size="9.0" fill="#6a6b70" text-anchor="middle">Lug</text>
<text x="392.7" y="492.3" font-size="9.2" fill="#3a3b40" text-anchor="middle" font-weight="bold">2021</text>
<text x="449.2" y="492.3" font-size="9.0" fill="#6a6b70" text-anchor="middle">Lug</text>
<text x="505.8" y="492.3" font-size="9.2" fill="#3a3b40" text-anchor="middle" font-weight="bold">2022</text>
<text x="562.3" y="492.3" font-size="9.0" fill="#6a6b70" text-anchor="middle">Lug</text>
<text x="618.9" y="492.3" font-size="9.2" fill="#3a3b40" text-anchor="middle" font-weight="bold">2023</text>
<text x="675.4" y="492.3" font-size="9.0" fill="#6a6b70" text-anchor="middle">Lug</text>
<text x="732.0" y="492.3" font-size="9.2" fill="#3a3b40" text-anchor="middle" font-weight="bold">2024</text>
<text x="788.5" y="492.3" font-size="9.0" fill="#6a6b70" text-anchor="middle">Lug</text>
<text x="845.1" y="492.3" font-size="9.2" fill="#3a3b40" text-anchor="middle" font-weight="bold">2025</text>
<text x="901.6" y="492.3" font-size="9.0" fill="#6a6b70" text-anchor="middle">Lug</text>
<text x="958.2" y="492.3" font-size="9.2" fill="#3a3b40" text-anchor="middle" font-weight="bold">2026</text>
<path d="M8.1 512.7 H15.7 V522.8 H11.9 V516.7 H8.1 Z" fill="#131722"/><circle cx="19.3" cy="514.6" r="1.9" fill="#131722"/><path d="M23.1 512.7 H27.5 L24.4 522.8 H19.6 Z" fill="#131722"/>
<text x="32.2" y="523" font-size="13.6" fill="#131722" font-weight="bold">TradingView</text>
</svg>
</body></html>
